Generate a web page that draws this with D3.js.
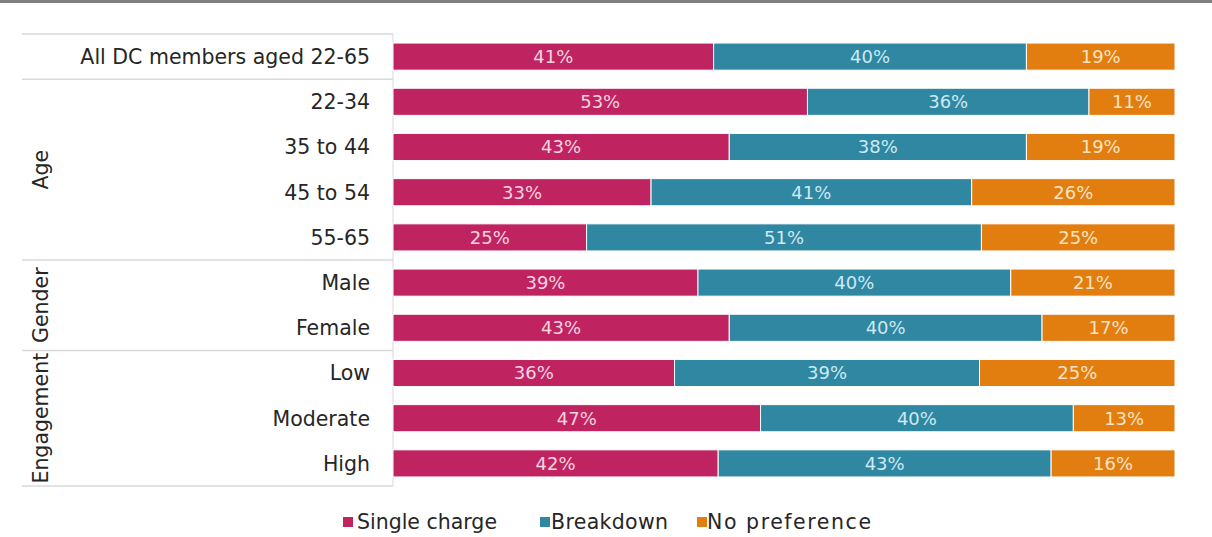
<!DOCTYPE html>
<html>
<head>
<meta charset="utf-8">
<script src="https://cdn.jsdelivr.net/npm/d3@7"></script>
<style>
  html, body { margin: 0; padding: 0; background: #fff; }
  svg { display: block; font-family: "DejaVu Sans", Verdana, sans-serif; }
</style>
</head>
<body>
<svg id="chart" width="1212" height="537"></svg>
<script>
// Row labels, top to bottom
const categories = ["All DC members aged 22-65", "22-34", "35 to 44", "45 to 54", "55-65",
                    "Male", "Female", "Low", "Moderate", "High"];
// Share of respondents (%) per preference
const singleCharge = [41, 53, 43, 33, 25, 39, 43, 36, 47, 42];
const breakdown    = [40, 36, 38, 41, 51, 40, 40, 39, 40, 43];
const noPreference = [19, 11, 19, 26, 25, 21, 17, 25, 13, 16];
// Series names (legend)
const seriesNames = ["Single charge", "Breakdown", "No preference"];
// Row groups: label, first row index, last row index
const groupNames = ["Age", "Gender", "Engagement"];
const groupStart = [1, 5, 7];
const groupEnd   = [4, 6, 9];

const colors = ["#BF2461", "#2F87A2", "#E27D10"];
const labelColors = ["#F6D3E0", "#CDE9F2", "#FBE3C4"];

const svg = d3.select("#chart");
const W = 1212;

// top band
svg.append("rect").attr("x", 0).attr("y", 0).attr("width", W).attr("height", 3).attr("fill", "#808080");

const plotLeft = 393, plotRight = 1175, plotTop = 34, plotBottom = 486;

const rows = categories.map((c, i) => ({
  cat: c,
  "Single charge": singleCharge[i],
  "Breakdown": breakdown[i],
  "No preference": noPreference[i]
}));

const stack = d3.stack().keys(seriesNames).offset(d3.stackOffsetExpand);
const series = stack(rows);

const x = d3.scaleLinear().domain([0, 1]).range([plotLeft, plotRight]);
const y = d3.scaleBand().domain(categories).range([plotTop, plotBottom]).paddingInner(0.4).paddingOuter(0.2);
const step = y.step();

// table lines on the left
const lineColor = "#D9D9D9";
const sepRows = [0, 1, 5, 7, 10];
svg.append("g").selectAll("line").data(sepRows).join("line")
  .attr("x1", 22).attr("x2", plotLeft)
  .attr("y1", d => plotTop + d * step).attr("y2", d => plotTop + d * step)
  .attr("stroke", lineColor).attr("stroke-width", 1.5);

// vertical axis line
svg.append("line").attr("x1", plotLeft).attr("x2", plotLeft).attr("y1", plotTop).attr("y2", plotBottom)
  .attr("stroke", lineColor).attr("stroke-width", 1);

// bars
const gBars = svg.append("g");
series.forEach((s, si) => {
  const g = gBars.append("g");
  g.selectAll("rect").data(s).join("rect")
    .attr("x", d => x(d[0]))
    .attr("y", d => y(d.data.cat))
    .attr("width", d => x(d[1]) - x(d[0]))
    .attr("height", y.bandwidth())
    .attr("fill", colors[si])
    .attr("stroke", "#fff").attr("stroke-width", 1);
  g.selectAll("text").data(s).join("text")
    .attr("x", d => (x(d[0]) + x(d[1])) / 2)
    .attr("y", d => y(d.data.cat) + y.bandwidth() / 2)
    .attr("dy", "0.36em")
    .attr("text-anchor", "middle")
    .attr("fill", labelColors[si])
    .attr("font-size", 18)
    .text(d => d.data[s.key] + "%");
});

// category labels
svg.append("g").selectAll("text").data(categories).join("text")
  .attr("x", 370)
  .attr("y", d => y(d) + y.bandwidth() / 2)
  .attr("dy", "0.36em")
  .attr("text-anchor", "end")
  .attr("fill", "#262626")
  .attr("font-size", 20.5)
  .text(d => d);

// group labels (rotated)
svg.append("g").selectAll("text").data(groupNames).join("text")
  .attr("transform", (d, i) => {
    const cy = plotTop + ((groupStart[i] + groupEnd[i] + 1) / 2) * step;
    return `translate(41,${cy}) rotate(-90)`;
  })
  .attr("dy", "0.36em")
  .attr("text-anchor", "middle")
  .attr("fill", "#262626")
  .attr("font-size", 20.5)
  .text(d => d);

// legend
const legendX = [343, 540, 697];
const legendTextX = [357, 551, 707];
const legendW = [140, 117, 164];
const leg = svg.append("g");
seriesNames.forEach((n, i) => {
  leg.append("rect").attr("x", legendX[i]).attr("y", 517).attr("width", 10).attr("height", 10).attr("fill", colors[i]);
  leg.append("text").attr("x", legendTextX[i]).attr("y", 522).attr("dy", "0.36em")
    .attr("font-size", 20.5).attr("fill", "#262626")
    .attr("textLength", legendW[i]).attr("lengthAdjust", "spacing")
    .text(n);
});
</script>
</body>
</html>
